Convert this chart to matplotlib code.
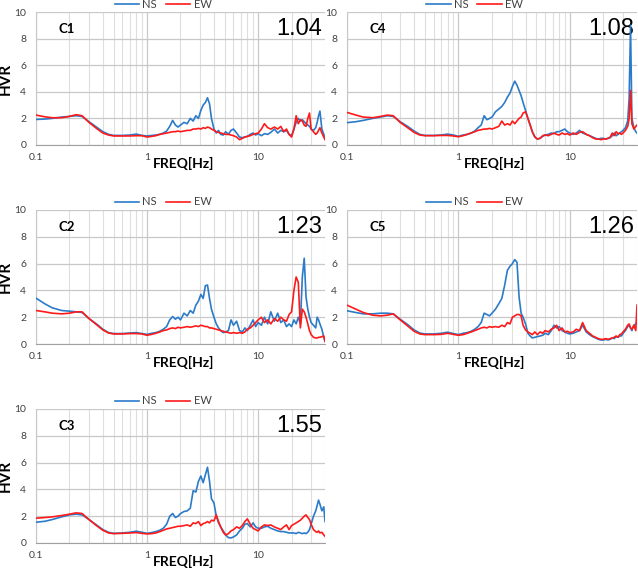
import numpy as np
import matplotlib
matplotlib.use("Agg")
from matplotlib import pyplot as plt
from matplotlib.ticker import LogLocator, FixedLocator, NullFormatter

plt.rcParams['font.family'] = ['Lato', 'DejaVu Sans']

# frequency axis shared by every station (Hz)
freq = [0.10, 0.12, 0.14, 0.17, 0.20, 0.23, 0.26, 0.30, 0.35, 0.40, 0.45, 0.50, 0.60, 0.70, 0.80, 0.90,
        1.00, 1.10, 1.20, 1.30, 1.40, 1.50, 1.60, 1.70, 1.80, 1.90, 2.00,
        2.15, 2.30, 2.45, 2.60, 2.75, 2.90, 3.05, 3.20, 3.35, 3.50, 3.65, 3.80, 4.00,
        4.20, 4.40, 4.60, 4.85, 5.10, 5.40, 5.70, 6.00, 6.40, 6.80, 7.20, 7.60, 8.00, 8.50, 9.00, 9.50, 10.0,
        10.7, 11.4, 12.2, 13.0, 14.0, 15.0, 16.0, 17.0, 18.0, 19.0, 20.0,
        21.0, 22.0, 23.0, 24.0, 25.0, 26.0, 27.0, 28.0, 29.0, 30.0, 31.5, 33.0, 34.0, 35.0, 36.0, 37.5, 39.0, 40.0]

stations = ["C1", "C4", "C2", "C5", "C3"]
ratios = ["1.04", "1.08", "1.23", "1.26", "1.55"]

c1_ns = [1.92, 1.95, 2.0, 2.1, 2.15, 2.2, 2.15, 1.75, 1.35, 1.0, 0.8, 0.72, 0.72, 0.75, 0.82, 0.72,
         0.68, 0.72, 0.75, 0.8, 0.9, 1.05, 1.4, 1.85, 1.5, 1.35, 1.5,
         1.7, 1.6, 2.0, 1.8, 2.2, 2.0, 2.6, 3.0, 3.2, 3.55, 3.1, 2.0, 1.2,
         0.9, 1.1, 0.8, 0.75, 1.0, 0.8, 1.1, 1.2, 0.9, 0.6, 0.55, 0.6, 0.65, 0.8, 0.9, 0.75, 0.85,
         0.7, 0.85, 0.8, 0.95, 1.2, 0.9, 1.1, 1.0, 1.1, 0.8, 0.7,
         1.2, 1.7, 2.0, 1.8, 1.9, 1.75, 1.6, 1.5, 1.4, 1.2, 1.1, 1.3, 1.7, 2.2, 2.55, 1.2, 0.8, 0.5]
c1_ew = [2.25, 2.12, 2.05, 2.05, 2.15, 2.28, 2.2, 1.7, 1.25, 0.9, 0.75, 0.68, 0.68, 0.68, 0.7, 0.7,
         0.6, 0.65, 0.7, 0.8, 0.85, 0.9, 0.95, 1.0, 1.0, 1.05, 1.0,
         1.05, 1.1, 1.1, 1.2, 1.2, 1.25, 1.2, 1.3, 1.25, 1.35, 1.3, 1.2, 1.1,
         1.0, 0.95, 0.9, 0.85, 0.8, 0.8, 0.75, 0.7, 0.6, 0.4, 0.5, 0.6, 0.65, 0.7, 0.8, 0.85, 0.9,
         1.2, 1.6, 1.3, 1.2, 1.35, 1.2, 1.4, 1.0, 1.2, 0.8, 0.6,
         1.2, 2.2, 1.6, 1.9, 1.8, 1.5, 1.4, 2.0, 2.4, 1.2, 1.0, 0.8, 0.9, 1.1, 1.3, 0.9, 0.6, 0.4]

c4_ns = [1.68, 1.75, 1.85, 2.0, 2.1, 2.2, 2.15, 1.75, 1.4, 1.05, 0.8, 0.72, 0.72, 0.75, 0.82, 0.75,
         0.65, 0.75, 0.8, 0.9, 1.05, 1.3, 1.5, 2.2, 1.9, 2.0, 2.1,
         2.5, 2.7, 2.9, 3.2, 3.6, 3.9, 4.4, 4.8, 4.5, 4.1, 3.7, 3.2, 2.6,
         2.0, 1.5, 1.0, 0.6, 0.45, 0.5, 0.65, 0.75, 0.8, 0.9, 0.85, 1.0, 1.0, 1.1, 1.2, 1.0, 0.9,
         0.8, 0.9, 1.1, 0.9, 0.8, 0.7, 0.6, 0.5, 0.45, 0.5, 0.5,
         0.45, 0.5, 0.55, 0.7, 0.9, 0.7, 0.8, 0.9, 1.0, 1.1, 1.3, 1.8, 3.5, 9.0, 2.0, 1.3, 1.0, 0.9]
c4_ew = [2.45, 2.25, 2.1, 2.05, 2.15, 2.25, 2.2, 1.7, 1.3, 0.95, 0.75, 0.7, 0.7, 0.72, 0.72, 0.68,
         0.62, 0.7, 0.8, 0.9, 1.0, 1.1, 1.15, 1.2, 1.2, 1.25, 1.2,
         1.3, 1.4, 1.8, 1.5, 1.6, 1.5, 1.8, 1.6, 1.8, 2.0, 2.1, 2.4, 2.5,
         2.0, 1.5, 1.0, 0.6, 0.45, 0.5, 0.7, 0.75, 0.7, 0.8, 0.9, 0.8, 0.75, 0.9, 0.8, 0.85, 0.75,
         0.9, 0.8, 0.95, 1.0, 0.8, 0.7, 0.55, 0.45, 0.45, 0.4, 0.45,
         0.45, 0.5, 0.6, 0.9, 0.7, 1.0, 0.85, 0.9, 0.8, 0.9, 1.1, 1.4, 2.0, 4.1, 1.6, 1.2, 1.4, 1.5]

c2_ns = [3.42, 3.0, 2.7, 2.5, 2.45, 2.4, 2.35, 1.9, 1.5, 1.1, 0.85, 0.78, 0.78, 0.82, 0.85, 0.78,
         0.72, 0.8, 0.85, 0.95, 1.1, 1.3, 1.8, 2.05, 1.85, 2.0, 1.8,
         2.3, 2.1, 2.5, 2.3, 2.9, 3.2, 3.7, 3.4, 4.35, 4.4, 3.4, 2.6, 2.0,
         1.5, 1.2, 1.0, 0.85, 0.9, 1.0, 1.8, 1.4, 1.7, 1.0, 0.9, 1.2, 1.0, 1.4, 1.8, 1.3, 1.6,
         1.4, 2.0, 1.5, 2.4, 1.7, 2.3, 1.6, 1.8, 1.3, 1.5, 1.3,
         1.8, 1.5, 2.0, 1.5, 5.0, 6.4, 3.5, 2.6, 2.0, 1.6, 1.4, 1.2, 2.0, 1.8, 1.5, 1.1, 0.5, 0.2]
c2_ew = [2.5, 2.4, 2.3, 2.25, 2.3, 2.4, 2.4, 1.9, 1.45, 1.05, 0.82, 0.75, 0.75, 0.78, 0.78, 0.75,
         0.65, 0.72, 0.8, 0.9, 1.0, 1.05, 1.15, 1.2, 1.15, 1.25, 1.2,
         1.25, 1.3, 1.25, 1.3, 1.35, 1.3, 1.4, 1.35, 1.3, 1.3, 1.2, 1.2, 1.15,
         1.1, 1.05, 1.0, 0.95, 0.9, 0.85, 0.8, 0.85, 0.8, 0.85, 0.8, 0.9, 1.1, 1.2, 1.4, 1.6, 1.8,
         2.0, 1.6, 1.8, 1.5, 1.9, 1.7, 2.0, 1.8, 1.7, 2.2, 2.4,
         4.0, 5.0, 4.6, 1.2, 2.6, 2.4, 2.0, 1.5, 1.0, 0.7, 0.5, 0.45, 0.45, 0.5, 0.5, 0.55, 0.6, 0.2]

c5_ns = [2.48, 2.35, 2.25, 2.25, 2.3, 2.3, 2.25, 1.85, 1.45, 1.05, 0.82, 0.75, 0.75, 0.8, 0.88, 0.78,
         0.7, 0.8, 0.85, 0.95, 1.1, 1.3, 1.6, 2.3, 2.2, 2.1, 2.3,
         2.6, 3.0, 3.4, 4.4, 5.5, 5.8, 6.0, 6.3, 6.1, 3.5, 2.3, 2.0, 1.5,
         0.8, 0.6, 0.45, 0.5, 0.55, 0.6, 0.65, 0.8, 0.7, 1.0, 1.4, 1.2, 1.3, 1.0, 0.9, 0.8, 0.75,
         0.8, 0.9, 1.0, 1.4, 0.9, 0.7, 0.55, 0.45, 0.35, 0.3, 0.3,
         0.35, 0.3, 0.35, 0.45, 0.4, 0.55, 0.5, 0.6, 0.6, 0.8, 1.0, 1.3, 1.4, 1.2, 1.0, 1.4, 1.5, 1.6]
c5_ew = [2.9, 2.6, 2.35, 2.15, 2.1, 2.15, 2.25, 1.8, 1.35, 0.95, 0.75, 0.7, 0.7, 0.72, 0.8, 0.72,
         0.65, 0.7, 0.8, 0.9, 1.0, 1.1, 1.2, 1.25, 1.2, 1.3, 1.25,
         1.3, 1.25, 1.4, 1.3, 1.6, 1.5, 2.0, 2.1, 2.2, 2.2, 2.1, 1.4, 1.05,
         0.9, 0.8, 0.7, 0.9, 0.7, 0.9, 0.8, 1.0, 0.9, 1.1, 1.2, 1.4, 1.0, 1.2, 0.9, 0.95, 0.85,
         0.9, 1.1, 1.0, 1.6, 1.0, 0.8, 0.6, 0.5, 0.4, 0.35, 0.35,
         0.4, 0.35, 0.4, 0.45, 0.5, 0.6, 0.5, 0.7, 0.75, 0.9, 1.1, 1.4, 1.5, 1.2, 1.1, 1.4, 1.0, 2.9]

c3_ns = [1.55, 1.62, 1.75, 1.95, 2.1, 2.15, 2.1, 1.75, 1.35, 1.0, 0.8, 0.72, 0.75, 0.8, 0.88, 0.8,
         0.72, 0.78, 0.85, 0.95, 1.1, 1.4, 2.0, 2.2, 1.9, 2.0, 2.2,
         2.35, 2.4, 2.6, 3.9, 3.8, 4.6, 5.0, 4.5, 5.1, 5.65, 4.6, 3.3, 3.0,
         2.0, 1.5, 1.2, 0.9, 0.6, 0.4, 0.38, 0.45, 0.6, 0.9, 1.1, 1.4, 1.45, 1.2, 1.5, 1.2, 1.1,
         1.1, 1.2, 1.25, 1.1, 1.0, 0.9, 0.85, 0.85, 0.8, 0.75, 0.75,
         0.75, 0.7, 0.8, 0.75, 0.7, 0.75, 0.7, 0.8, 1.0, 1.4, 2.0, 2.4, 2.8, 3.2, 2.9, 2.4, 2.7, 1.6]
c3_ew = [1.85, 1.9, 1.95, 2.05, 2.15, 2.25, 2.2, 1.75, 1.3, 0.95, 0.75, 0.7, 0.72, 0.75, 0.78, 0.72,
         0.68, 0.7, 0.75, 0.85, 0.95, 1.05, 1.1, 1.15, 1.2, 1.25, 1.25,
         1.3, 1.35, 1.25, 1.5, 1.45, 1.6, 1.3, 1.45, 1.5, 1.6, 1.5, 1.7, 1.65,
         2.1, 1.6, 1.2, 0.8, 0.6, 0.7, 0.9, 1.0, 1.2, 1.1, 1.3, 1.6, 1.8, 1.4, 1.1, 1.0, 0.9,
         1.2, 1.35, 1.3, 1.35, 1.2, 1.1, 1.0, 1.2, 1.35, 1.0, 1.3,
         1.4, 1.5, 1.6, 1.7, 1.85, 2.0, 2.1, 1.9, 1.75, 1.4, 1.0, 0.85, 0.8, 0.9, 0.75, 0.8, 0.6, 0.5]

ns_all = [c1_ns, c4_ns, c2_ns, c5_ns, c3_ns]
ew_all = [c1_ew, c4_ew, c2_ew, c5_ew, c3_ew]

NS_COLOR = '#2b7bc9'
EW_COLOR = '#ff1a1a'
W, H = 638.0, 572.0

# plot areas in pixels: left, top, right, bottom
boxes = [(36, 12, 325, 145), (347, 12, 637, 145),
         (36, 210, 325, 344), (347, 210, 637, 344),
         (36, 409, 325, 543)]

fig = plt.figure(figsize=(W / 100, H / 100), dpi=100)

for i, name in enumerate(stations):
    l, t, r, b = boxes[i]
    ax = fig.add_axes([l / W, 1 - b / H, (r - l) / W, (b - t) / H])

    ax.plot(freq, ns_all[i], color=NS_COLOR, lw=1.2, label='NS', zorder=3)
    ax.plot(freq, ew_all[i], color=EW_COLOR, lw=1.2, label='EW', zorder=3)

    ax.set_xscale('log')
    ax.set_xlim(0.1, 40)
    ax.set_ylim(0, 10)
    ax.set_yticks([0, 2, 4, 6, 8, 10])
    ax.xaxis.set_major_locator(FixedLocator([0.1, 1, 10]))
    ax.set_xticklabels(['0.1', '1', '10'])
    ax.xaxis.set_minor_locator(LogLocator(base=10, subs=np.arange(2, 10)))
    ax.xaxis.set_minor_formatter(NullFormatter())
    ax.tick_params(which='both', length=0, labelsize=7.5, colors='#404040')
    ax.tick_params(axis='x', pad=6)
    ax.tick_params(axis='y', pad=7)

    ax.grid(True, which='major', axis='both', color='#c8c8c8', lw=0.9)
    ax.grid(True, which='minor', axis='x', color='#dedede', lw=0.8)
    ax.set_axisbelow(True)
    for s in ['top', 'right']:
        ax.spines[s].set_visible(False)
    ax.spines['left'].set_color('#c8c8c8')
    ax.spines['bottom'].set_color('#a0a0a0')

    # axis title sits just right of the "1" label, like the original
    ax.set_xlabel('FREQ[Hz]', fontsize=10, fontweight='bold', labelpad=-3.5)
    ax.xaxis.set_label_coords(0.5 + 3 / (r - l), -0.09)
    if l < 100:
        ax.set_ylabel('HVR', fontsize=11, fontweight='bold', labelpad=1)

    ax.text(0.107, 0.87, name, transform=ax.transAxes, fontsize=9.5,
            fontweight='bold', ha='center', va='center', zorder=1)
    ax.text(0.99, 0.87, ratios[i], transform=ax.transAxes, fontsize=17,
            family=['Liberation Sans', 'DejaVu Sans'], ha='right', va='center', zorder=1)

    ax.legend(loc='center', bbox_to_anchor=(0.44, 1.06), ncol=2, frameon=False,
              fontsize=8, handlelength=2.2, handletextpad=0.3, columnspacing=0.8,
              borderpad=0, labelcolor='#404040')

fig.savefig('out.png', dpi=100)
